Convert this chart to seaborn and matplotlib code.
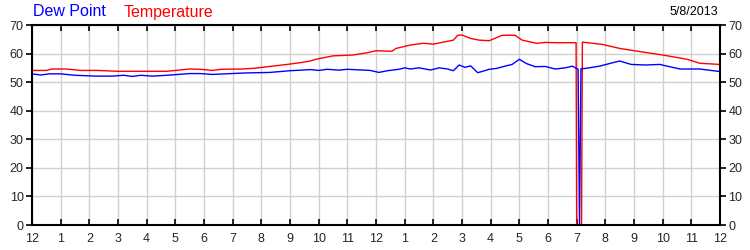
import matplotlib
matplotlib.use("Agg")
import matplotlib.pyplot as plt
import seaborn as sns
import pandas as pd

sns.set_theme(style="white")
plt.rcParams['font.family'] = ['Liberation Sans', 'DejaVu Sans']

# time in hours since midnight
temp_t = [0.0, 0.5, 0.7, 1.2, 1.7, 2.27, 3.0, 4.0, 4.7, 5.5, 5.86, 6.3, 6.6, 7.36,
          7.8, 8.3, 8.9, 9.35, 9.7, 9.9, 10.5, 11.2, 11.7, 12.0, 12.55, 12.7, 13.2,
          13.65, 14.0, 14.35, 14.7, 14.85, 15.0, 15.3, 15.6, 15.95, 16.4, 16.85,
          17.1, 17.6, 17.9, 18.3, 18.98, 19.0, 19.17, 19.2, 19.9, 20.5, 21.2, 22.0,
          22.85, 23.3, 24.0]
temp_v = [54.1, 54.1, 54.6, 54.6, 54.1, 54.1, 53.8, 53.8, 53.8, 54.6, 54.5, 54.1, 54.5, 54.6,
          54.9, 55.5, 56.2, 56.8, 57.4, 58.0, 59.2, 59.5, 60.3, 61.0, 60.8, 61.8, 63.0,
          63.6, 63.3, 64.0, 64.7, 66.4, 66.5, 65.3, 64.7, 64.5, 66.4, 66.4,
          64.7, 63.6, 63.9, 63.8, 63.8, 0.0, 0.0, 64.0, 63.2, 61.8, 60.7, 59.5,
          58.0, 56.6, 56.2]

dew_t = [0.0, 0.3, 0.6, 1.0, 1.5, 2.27, 2.8, 3.2, 3.5, 3.8, 4.2, 4.7, 5.5, 5.86, 6.3,
         7.4, 8.3, 9.0, 9.4, 9.7, 10.0, 10.3, 10.7, 11.0, 11.4, 11.8, 12.1, 12.4,
         12.8, 13.0, 13.2, 13.5, 13.9, 14.2, 14.5, 14.7, 14.9, 15.1, 15.3, 15.55,
         15.95, 16.2, 16.5, 16.75, 17.0, 17.25, 17.55, 17.9, 18.25, 18.6, 18.85,
         19.05, 19.1, 19.15, 19.3, 19.8, 20.3, 20.5, 20.9, 21.4, 21.9, 22.6, 23.3, 24.0]
dew_v = [52.9, 52.5, 52.9, 52.9, 52.4, 52.1, 52.1, 52.4, 52.0, 52.4, 52.1, 52.4, 53.0, 53.0, 52.7,
         53.2, 53.4, 54.0, 54.2, 54.4, 54.1, 54.5, 54.2, 54.5, 54.3, 54.1, 53.4, 54.0,
         54.5, 55.0, 54.6, 55.0, 54.25, 55.0, 54.6, 54.0, 56.0, 55.2, 55.7, 53.3,
         54.5, 54.8, 55.6, 56.2, 58.0, 56.5, 55.4, 55.5, 54.6, 55.0, 55.6,
         54.5, 0.0, 54.7, 54.8, 55.6, 56.9, 57.4, 56.2, 56.0, 56.2, 54.6, 54.6, 53.7]

x_ticks = list(range(0, 25))
x_labels = ['12', '1', '2', '3', '4', '5', '6', '7', '8', '9', '10', '11',
            '12', '1', '2', '3', '4', '5', '6', '7', '8', '9', '10', '11', '12']
y_ticks = [0, 10, 20, 30, 40, 50, 60, 70]

df_t = pd.DataFrame({'hour': temp_t, 'value': temp_v})
df_d = pd.DataFrame({'hour': dew_t, 'value': dew_v})

fig = plt.figure(figsize=(7.5, 2.5), dpi=100)
ax = fig.add_axes([32/750, 25/250, 688/750, 200/250])

sns.lineplot(data=df_t, x='hour', y='value', ax=ax, color='#ff0000', lw=1,
             estimator=None, sort=False)
sns.lineplot(data=df_d, x='hour', y='value', ax=ax, color='#0000ff', lw=1,
             estimator=None, sort=False)

ax.set_xlim(0, 24)
ax.set_ylim(0, 70)
ax.set_xticks(x_ticks)
ax.set_xticklabels(x_labels)
ax.set_yticks(y_ticks)
ax.set_xlabel('')
ax.set_ylabel('')
ax.grid(True, color='#d0d0d0', lw=1)
ax.set_axisbelow(True)
for s in ax.spines.values():
    s.set_color('black')
    s.set_linewidth(1.5)
ax.tick_params(axis='x', which='both', direction='in', top=True, bottom=True,
               length=4, width=1.2, color='black', labelsize=9, pad=6)
ax.tick_params(axis='y', which='both', direction='out', left=True, right=True,
               labelleft=True, labelright=True, length=4, width=1.2,
               color='black', labelsize=9, pad=2)

fig.text(33/750, 1 - 12/250, 'Dew Point', color='#0000ff', fontsize=11.5, va='center', ha='left')
fig.text(124/750, 1 - 12/250, 'Temperature', color='#ff0000', fontsize=11.5, va='center', ha='left')
fig.text(718/750, 1 - 12/250, '5/8/2013', color='black', fontsize=9, va='center', ha='right')

fig.savefig('out.png', dpi=100)
